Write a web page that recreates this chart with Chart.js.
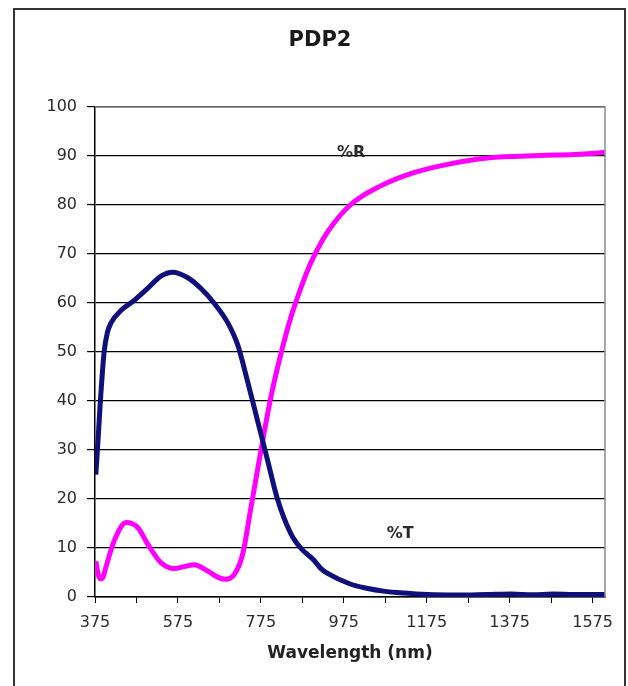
<!DOCTYPE html>
<html>
<head>
<meta charset="utf-8">
<script src="https://cdn.jsdelivr.net/npm/chart.js@4"></script>
<style>
	html, body { margin: 0; padding: 0; background: #fff; }
	#wrap { position: relative; width: 628px; height: 686px; }
</style>
</head>
<body>
<div id="wrap"><canvas id="pdp2-chart" width="628" height="686"></canvas></div>
<script>
(function() {
	'use strict';

	// %T curve (navy)
	var tWavelength = [377, 383, 388, 397, 405, 414, 438, 469, 502, 534, 562, 598, 630, 662, 695, 719, 743, 767, 791, 815, 847, 871, 903, 920, 936, 992, 1030, 1071, 1120, 1177, 1250, 1320, 1380, 1430, 1480, 1530, 1605];
	var tValues = [25, 33, 40, 50, 54, 56, 58.5, 60.5, 63, 65.5, 66.3, 65.2, 63, 60, 56, 51.5, 44, 36, 28, 20, 13, 10, 7.5, 5.8, 4.8, 2.6, 1.8, 1.2, 0.8, 0.5, 0.4, 0.5, 0.6, 0.45, 0.6, 0.5, 0.5];

	// %R curve (magenta)
	var rWavelength = [377, 383, 389, 395, 401, 421, 450, 478, 502, 534, 566, 590, 614, 647, 672, 690, 711, 731, 751, 775, 799, 823, 847, 867, 887, 900, 936, 992, 1064, 1144, 1225, 1321, 1450, 1530, 1605];
	var rValues = [7.3, 4.5, 3.7, 4.2, 6, 11.4, 15.2, 14.2, 10.8, 7, 5.8, 6.2, 6.6, 5.3, 4, 3.6, 4.6, 8.7, 18.2, 29.8, 40.7, 49.5, 57, 62, 66.5, 69, 74.5, 80.1, 83.9, 86.6, 88.3, 89.6, 90.1, 90.3, 90.7];

	// curve labels placed in data units
	var curveLabels = [
		{ text: '%R', x: 993, y: 90.6 },
		{ text: '%T', x: 1111, y: 12.8 }
	];

	var chartTitle = 'PDP2';
	var tickFont = 'DejaVu Sans';

	function toPoints(xs, ys) {
		return xs.map(function(x, i) {
			return { x: x, y: ys[i] };
		});
	}

	// outer frame, title, gray plot border and inline curve labels
	var framePlugin = {
		id: 'frame',
		beforeDraw: function(chart) {
			var ctx = chart.ctx;
			ctx.save();
			ctx.strokeStyle = '#333';
			ctx.lineWidth = 2;
			ctx.beginPath();
			ctx.moveTo(14, 700);
			ctx.lineTo(14, 9);
			ctx.lineTo(625, 9);
			ctx.lineTo(625, 700);
			ctx.stroke();

			ctx.fillStyle = '#1a1a1a';
			ctx.font = 'bold 21px "DejaVu Sans", sans-serif';
			ctx.textAlign = 'center';
			ctx.textBaseline = 'middle';
			ctx.fillText(chartTitle, 320, 41);
			ctx.restore();
		},
		afterDatasetsDraw: function(chart) {
			var ctx = chart.ctx;
			var a = chart.chartArea;
			var xs = chart.scales.x;
			var ys = chart.scales.y;

			ctx.save();
			ctx.strokeStyle = '#8a8a8a';
			ctx.lineWidth = 1.5;
			ctx.beginPath();
			ctx.moveTo(a.left, a.top);
			ctx.lineTo(a.right, a.top);
			ctx.lineTo(a.right, a.bottom);
			ctx.stroke();

			ctx.fillStyle = '#2a2a2a';
			ctx.font = 'bold 16px "DejaVu Sans", sans-serif';
			ctx.textAlign = 'center';
			ctx.textBaseline = 'middle';
			curveLabels.forEach(function(l) {
				ctx.fillText(l.text, xs.getPixelForValue(l.x), ys.getPixelForValue(l.y));
			});
			ctx.restore();
		}
	};

	var ctx = document.getElementById('pdp2-chart').getContext('2d');

	new Chart(ctx, {
		type: 'line',
		data: {
			datasets: [{
				label: '%T',
				data: toPoints(tWavelength, tValues),
				borderColor: '#10107a',
				borderWidth: 5,
				pointRadius: 0,
				cubicInterpolationMode: 'monotone',
				fill: false
			}, {
				label: '%R',
				data: toPoints(rWavelength, rValues),
				borderColor: '#ff00ff',
				borderWidth: 5,
				pointRadius: 0,
				cubicInterpolationMode: 'monotone',
				fill: false
			}]
		},
		plugins: [framePlugin],
		options: {
			responsive: false,
			animation: false,
			devicePixelRatio: 1,
			layout: {
				padding: { left: 0, right: 23, top: 107, bottom: 0 }
			},
			plugins: {
				legend: { display: false },
				tooltip: { enabled: false },
				title: { display: false }
			},
			scales: {
				x: {
					type: 'linear',
					min: 375,
					max: 1605,
					afterFit: function(scale) {
						scale.height = 89;
					},
					afterBuildTicks: function(scale) {
						var t = [];
						for (var v = 375; v <= 1575; v += 100) {
							t.push({ value: v });
						}
						scale.ticks = t;
					},
					ticks: {
						autoSkip: false,
						maxRotation: 0,
						color: '#2a2a2a',
						padding: 10,
						font: { family: tickFont, size: 16 },
						callback: function(value) {
							return (value - 375) % 200 === 0 ? String(value) : '';
						}
					},
					grid: {
						drawOnChartArea: false,
						drawTicks: true,
						tickLength: 6,
						color: '#000'
					},
					border: { display: true, color: '#000', width: 1.5 },
					title: {
						display: true,
						text: 'Wavelength (nm)',
						color: '#222',
						font: { family: tickFont, size: 17, weight: 'bold' },
						padding: { top: 4, bottom: 22 }
					}
				},
				y: {
					min: 0,
					max: 100,
					afterFit: function(scale) {
						scale.width = 95;
					},
					ticks: {
						stepSize: 10,
						color: '#2a2a2a',
						padding: 10,
						font: { family: tickFont, size: 16 }
					},
					grid: {
						color: '#000',
						lineWidth: 1.2,
						tickLength: 8
					},
					border: { display: true, color: '#000', width: 1.5 }
				}
			}
		}
	});
})();
</script>
</body>
</html>
